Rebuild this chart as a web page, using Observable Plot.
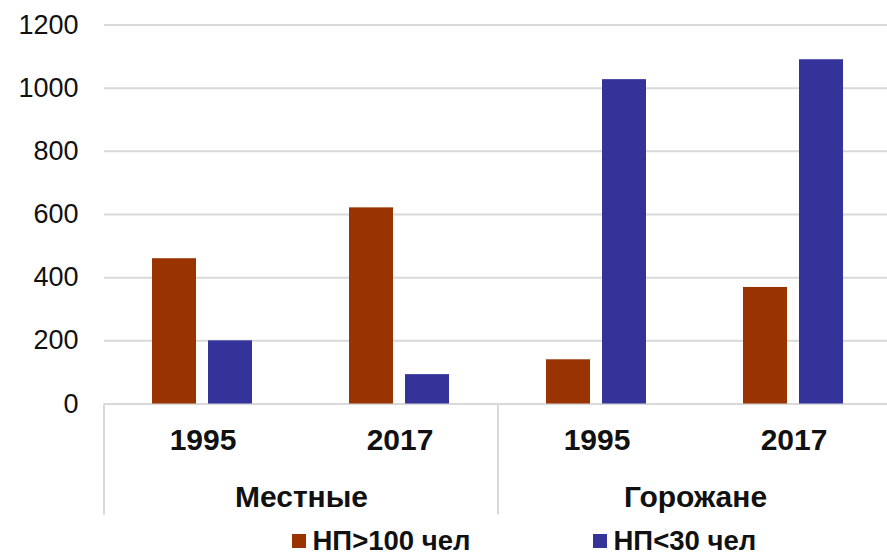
<!DOCTYPE html>
<html>
<head>
<meta charset="utf-8">
<script src="https://cdn.jsdelivr.net/npm/d3@7"></script>
<script src="https://cdn.jsdelivr.net/npm/@observablehq/plot@0.6"></script>
<style>
  html, body { margin: 0; padding: 0; background: #fff; overflow: hidden; }
  #wrap { position: relative; width: 887px; height: 556px; overflow: hidden; font-family: "Liberation Sans", Arial, sans-serif; }
  #chart { width: 893px; }
  #chart svg { max-width: none !important; display: block; }
  #legend { position: absolute; left: 0; top: 520px; width: 887px; height: 36px; }
  .item { position: absolute; top: 0; height: 42px; display: flex; align-items: center; font-size: 27.5px; font-weight: bold; color: #111; white-space: nowrap; }
  .sw { width: 14px; height: 14px; margin-right: 7px; }
</style>
</head>
<body>
<div id="wrap"><div id="chart"></div><div id="legend"></div></div>
<script>
const groups = ["Местные", "Горожане"];
const years = ["1995", "2017"];
const series = ["НП>100 чел", "НП<30 чел"];
// order: Местные 1995, Местные 2017, Горожане 1995, Горожане 2017
const over100 = [460, 621, 140, 369];
const under30 = [200, 93, 1027, 1090];
const yTicks = [0, 200, 400, 600, 800, 1000, 1200];
const colors = ["#993300", "#333399"];

const slots = groups.flatMap(g => years.map(y => g + " " + y));
const data = slots.flatMap((s, i) => [
  {slot: s, series: series[0], value: over100[i]},
  {slot: s, series: series[1], value: under30[i]}
]);
const groupLabels = groups.map((g, i) => ({slot: slots[i * years.length + 1], name: g}));

const chart = Plot.plot({
  width: 893,
  height: 520,
  marginLeft: 103,
  marginRight: 0,
  marginTop: 24.5,
  marginBottom: 116.5,
  style: {fontFamily: "'Liberation Sans', Arial, sans-serif", color: "#111", background: "white", overflow: "visible", maxWidth: "none"},
  fx: {domain: slots, padding: 0, axis: null, label: null},
  x: {domain: series, paddingInner: 0.211, paddingOuter: 0.845, align: 0.5, axis: null, label: null},
  y: {domain: [0, 1200], axis: null, label: null},
  color: {domain: series, range: colors},
  marks: [
    Plot.gridY(yTicks, {stroke: "#d9d9d9", strokeOpacity: 1, strokeWidth: 2}),
    Plot.barY(data, {fx: "slot", x: "series", y: "value", fill: "series"}),
    Plot.axisY(yTicks, {tickSize: 0, tickPadding: 26, fontSize: 27, label: null, fill: "#111", tickFormat: d => String(d)}),
    Plot.text(slots, {fx: d => d, text: d => d.split(" ")[1], frameAnchor: "bottom", dy: 36, fontSize: 30, fontWeight: "bold", lineAnchor: "middle", fill: "#111"}),
    Plot.text(groupLabels, {fx: "slot", text: "name", frameAnchor: "bottom-left", dy: 93, textAnchor: "middle", fontSize: 30, fontWeight: "bold", lineAnchor: "middle", fill: "#111"})
  ]
});
document.getElementById("chart").appendChild(chart);

// category separators below the axis, positioned with the fx scale
const fxs = chart.scale("fx");
const ys = chart.scale("y");
const y0 = ys.apply(0);
const seps = [fxs.apply(slots[0]), fxs.apply(slots[years.length]), fxs.apply(slots[slots.length - 1]) + fxs.bandwidth];
d3.select(chart).append("g")
  .selectAll("line").data(seps).join("line")
  .attr("x1", d => d).attr("x2", d => d)
  .attr("y1", y0).attr("y2", y0 + 111)
  .attr("stroke", "#d9d9d9").attr("stroke-width", 2);

// legend
const legendLeft = [291.5, 592.5];
const legend = d3.select("#legend");
series.forEach((s, i) => {
  const it = legend.append("div").attr("class", "item").style("left", legendLeft[i] + "px");
  it.append("div").attr("class", "sw").style("background", colors[i]);
  it.append("span").text(s);
});
</script>
</body>
</html>
